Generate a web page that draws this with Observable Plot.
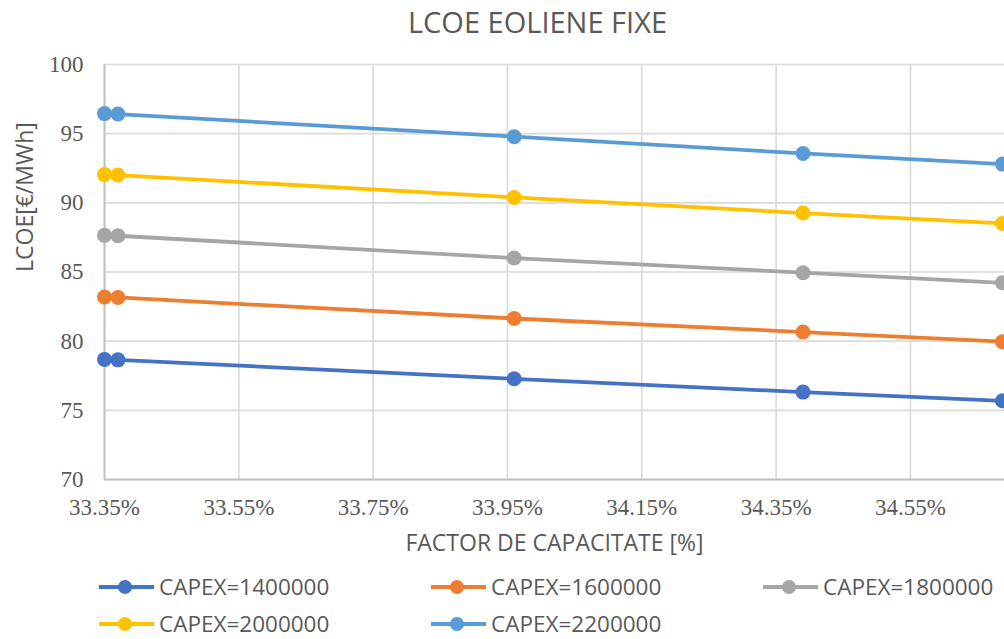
<!DOCTYPE html>
<html>
<head>
<meta charset="utf-8">
<script src="https://cdn.jsdelivr.net/npm/d3@7"></script>
<script src="https://cdn.jsdelivr.net/npm/@observablehq/plot@0.6"></script>
<style>
  html, body { margin: 0; padding: 0; background: #fff; }
  #wrap { width: 1004px; height: 639px; overflow: hidden; position: relative; }
  #title { height: 45px; line-height: 43px; padding-left: 71px; text-align: center;
           font-family: "Open Sans", sans-serif; font-size: 29px; color: #595959; white-space: nowrap; }
  #legend { position: relative; height: 75px; font-family: "Open Sans", sans-serif; font-size: 22.5px; color: #595959; }
  .item { position: absolute; height: 24px; line-height: 24px; display: flex; align-items: center; white-space: nowrap; }
  .item svg { display: block; margin-right: 5px; }
</style>
</head>
<body>
<div id="wrap">
  <div id="title"></div>
  <div id="chart"></div>
  <div id="legend"></div>
</div>
<script>
// ---- data ----
const chartTitle = "LCOE EOLIENE FIXE";
const xTitle = "FACTOR DE CAPACITATE [%]";
const yTitle = "LCOE[€/MWh]";
const capFactor = [33.35, 33.37, 33.96, 34.39, 34.687];   // %
const series = ["CAPEX=1400000", "CAPEX=1600000", "CAPEX=1800000", "CAPEX=2000000", "CAPEX=2200000"];
const lcoe1400 = [78.68, 78.65, 77.28, 76.32, 75.69];
const lcoe1600 = [83.19, 83.16, 81.64, 80.66, 79.96];
const lcoe1800 = [87.65, 87.62, 86.01, 84.95, 84.22];
const lcoe2000 = [92.04, 92.01, 90.39, 89.26, 88.51];
const lcoe2200 = [96.45, 96.42, 94.78, 93.57, 92.80];
const xTicks = [33.35, 33.55, 33.75, 33.95, 34.15, 34.35, 34.55];
const yTicks = [70, 75, 80, 85, 90, 95, 100];

// ---- styling ----
const colors = ["#4472C4", "#ED7D31", "#A5A5A5", "#FFC000", "#5B9BD5"];

const allSeries = [lcoe1400, lcoe1600, lcoe1800, lcoe2000, lcoe2200];
const rows = [];
allSeries.forEach((vals, i) => vals.forEach((v, j) => rows.push({series: series[i], cf: capFactor[j], lcoe: v})));

document.getElementById("title").textContent = chartTitle;

const chart = Plot.plot({
  width: 1004,
  height: 519,
  marginTop: 19,
  marginBottom: 85,
  marginLeft: 104,
  marginRight: 0,
  style: {fontFamily: "'Liberation Serif', serif", fontSize: "23px", color: "#595959", background: "#fff"},
  x: {domain: [33.35, 34.69]},
  y: {domain: [70, 100]},
  color: {domain: series, range: colors},
  marks: [
    Plot.gridX(xTicks, {stroke: "#d9d9d9", strokeOpacity: 1, strokeWidth: 1.6}),
    Plot.gridY(yTicks, {stroke: "#d9d9d9", strokeOpacity: 1, strokeWidth: 1.6}),
    Plot.ruleX([33.35], {stroke: "#bfbfbf", strokeWidth: 1.8}),
    Plot.ruleY([70], {stroke: "#bfbfbf", strokeWidth: 1.8}),
    Plot.axisX(xTicks, {tickSize: 0, tickPadding: 19, tickFormat: d => d.toFixed(2) + "%", label: null, fill: "#595959"}),
    Plot.axisY(yTicks, {tickSize: 0, tickPadding: 21, label: null, fill: "#595959"}),
    Plot.line(rows, {x: "cf", y: "lcoe", z: "series", stroke: "series", strokeWidth: 3.8}),
    Plot.dot(rows, {x: "cf", y: "lcoe", fill: "series", r: 7.5}),
    Plot.text([xTitle], {frameAnchor: "bottom", dy: 64, lineAnchor: "middle", fontFamily: "'Open Sans', sans-serif", fontSize: 23, fill: "#595959"}),
    Plot.text([yTitle], {frameAnchor: "left", dx: -79, rotate: -90, lineAnchor: "middle", fontFamily: "'Open Sans', sans-serif", fontSize: 23, fill: "#595959"})
  ]
});
document.getElementById("chart").appendChild(chart);

// ---- legend (below the chart) ----
const legend = document.getElementById("legend");
const legendPos = [[99, 11], [431, 11], [763, 11], [99, 47.5], [431, 47.5]];
series.forEach((s, i) => {
  const item = document.createElement("div");
  item.className = "item";
  item.style.left = legendPos[i][0] + "px";
  item.style.top = legendPos[i][1] + "px";
  item.innerHTML = `<svg width="55" height="18"><line x1="0" y1="9" x2="55" y2="9" stroke="${colors[i]}" stroke-width="4"/><circle cx="26" cy="9" r="7" fill="${colors[i]}"/></svg><span>${s}</span>`;
  legend.appendChild(item);
});
</script>
</body>
</html>
